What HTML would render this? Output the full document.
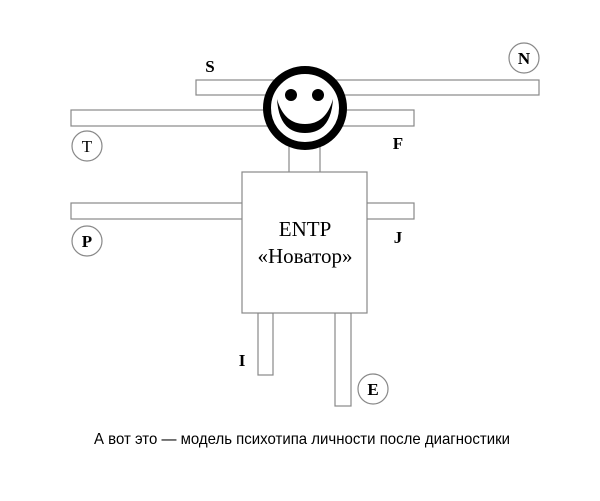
<!DOCTYPE html><html><head><style>body{margin:0;background:#fff}</style></head><body>
<svg width="600" height="496" viewBox="0 0 600 496" xmlns="http://www.w3.org/2000/svg">
<g fill="#fff" stroke="#888" stroke-width="1.2">
<rect x="196" y="80" width="343" height="15"/>
<rect x="71" y="110" width="343" height="16"/>
<rect x="289" y="145" width="31" height="28"/>
<rect x="71" y="203" width="172" height="16"/>
<rect x="366" y="203" width="48" height="16"/>
<rect x="258" y="313" width="15" height="62"/>
<rect x="335" y="313" width="16" height="93"/>
<rect x="242" y="172" width="125" height="141"/>
<circle cx="524" cy="58" r="15"/>
<circle cx="87" cy="146" r="15"/>
<circle cx="87" cy="241" r="15"/>
<circle cx="373" cy="389" r="15"/>
</g>
<circle cx="305" cy="108" r="38" fill="#fff" stroke="#000" stroke-width="8"/>
<circle cx="291" cy="95" r="6"/>
<circle cx="318" cy="95" r="6"/>
<path d="M277 99 Q279 133 305 133 Q331 133 333 99 Q326 124 305 124 Q284 124 277 99Z" fill="#000"/>
<g font-family="Liberation Serif, serif" font-weight="bold" font-size="17" text-anchor="middle">
<text x="210" y="72">S</text><text x="524" y="64">N</text>
<text x="87" y="152" font-weight="normal">T</text><text x="398" y="149">F</text>
<text x="87" y="247">P</text><text x="398" y="243">J</text>
<text x="242" y="366">I</text><text x="373" y="395">E</text>
</g>
<g font-family="Liberation Serif, serif" font-size="21" text-anchor="middle">
<text x="305" y="236">ENTP</text><text x="305" y="263">«Новатор»</text>
</g>
<text x="302" y="444" font-family="Liberation Sans, sans-serif" font-size="16" text-anchor="middle" textLength="416" lengthAdjust="spacingAndGlyphs">А вот это — модель психотипа личности после диагностики</text>
</svg>
</body></html>
